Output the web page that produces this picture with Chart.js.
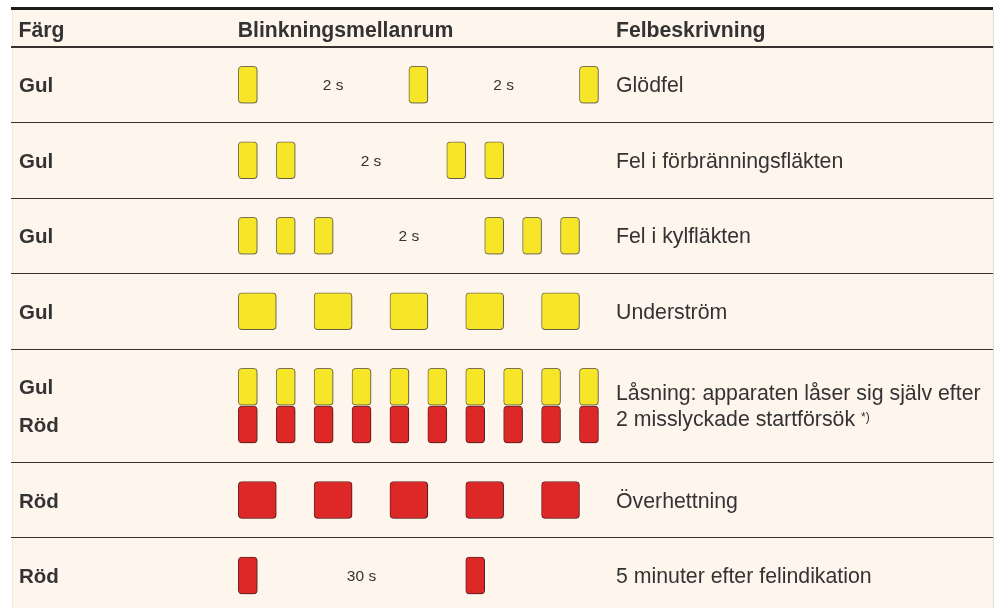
<!DOCTYPE html>
<html>
<head>
<meta charset="utf-8">
<script src="https://cdn.jsdelivr.net/npm/chart.js@4/dist/chart.umd.min.js"></script>
<style>
html,body{margin:0;padding:0;background:#fff;overflow:hidden}
#wrap{width:995px;height:608px;position:relative}
canvas{display:block}
</style>
</head>
<body>
<div id="wrap"><canvas id="c" width="995" height="608"></canvas></div>
<script>
// ---- data ----
const headers = ['Färg', 'Blinkningsmellanrum', 'Felbeskrivning'];
const colorLabels = [['Gul'], ['Gul'], ['Gul'], ['Gul'], ['Gul', 'Röd'], ['Röd'], ['Röd']];
const descriptions = [
  ['Glödfel'],
  ['Fel i förbränningsfläkten'],
  ['Fel i kylfläkten'],
  ['Underström'],
  ['Låsning: apparaten låser sig själv efter', '2 misslyckade startförsök'],
  ['Överhettning'],
  ['5 minuter efter felindikation']
];
const footnoteMark = '*)';
const rowSpans = [1, 1, 1, 1, 1.5, 1, 1];
// blink intervals [on, off] on a time axis (units)
const yellowBlinks = [
  [[0, 0.5], [4.5, 5], [9, 9.5]],
  [[0, 0.5], [1, 1.5], [5.5, 6], [6.5, 7]],
  [[0, 0.5], [1, 1.5], [2, 2.5], [6.5, 7], [7.5, 8], [8.5, 9]],
  [[0, 1], [2, 3], [4, 5], [6, 7], [8, 9]],
  [[0, 0.5], [1, 1.5], [2, 2.5], [3, 3.5], [4, 4.5], [5, 5.5], [6, 6.5], [7, 7.5], [8, 8.5], [9, 9.5]],
  [],
  []
];
const redBlinks = [
  [], [], [], [],
  [[0, 0.5], [1, 1.5], [2, 2.5], [3, 3.5], [4, 4.5], [5, 5.5], [6, 6.5], [7, 7.5], [8, 8.5], [9, 9.5]],
  [[0, 1], [2, 3], [4, 5], [6, 7], [8, 9]],
  [[0, 0.5], [6, 6.5]]
];
const intervalLabels = [
  [{ at: 2.5, text: '2 s' }, { at: 7, text: '2 s' }],
  [{ at: 3.5, text: '2 s' }],
  [{ at: 4.5, text: '2 s' }],
  [], [], [],
  [{ at: 3.25, text: '30 s' }]
];

// ---- layout helpers ----
const bounds = [0];
rowSpans.forEach(s => bounds.push(bounds[bounds.length - 1] + s));
const centers = rowSpans.map((s, i) => bounds[i] + s / 2);
function yFor(r, color) {
  const both = yellowBlinks[r].length && redBlinks[r].length;
  if (!both) return centers[r];
  return color === 'yellow' ? centers[r] - 0.25 : centers[r] + 0.25;
}
const yellowData = [];
yellowBlinks.forEach((row, r) => row.forEach(b => yellowData.push({ x: b, y: yFor(r, 'yellow') })));
const redData = [];
redBlinks.forEach((row, r) => row.forEach(b => redData.push({ x: b, y: yFor(r, 'red') })));

const FONT = '"Liberation Sans", Arial, Helvetica, sans-serif';
const TEXT = '#333';

const tablePlugin = {
  id: 'table',
  beforeDraw(chart) {
    const ctx = chart.ctx;
    ctx.save();
    ctx.fillStyle = '#ffffff';
    ctx.fillRect(0, 0, chart.width, chart.height);
    ctx.fillStyle = '#fef5ec';
    ctx.fillRect(12, 10, 981, chart.height - 10);
    ctx.fillStyle = '#e4ddd6';
    ctx.fillRect(993, 10, 1, chart.height - 10);
    ctx.fillStyle = '#f0e9e2';
    ctx.fillRect(12, 10, 1, chart.height - 10);
    ctx.restore();
  },
  beforeDatasetsDraw(chart) {
    const ctx = chart.ctx;
    ctx.save();
    ctx.shadowColor = 'rgba(0,0,0,0.22)';
    ctx.shadowOffsetX = 1.2;
    ctx.shadowOffsetY = 1.2;
    ctx.shadowBlur = 1.5;
  },
  afterDatasetsDraw(chart) {
    chart.ctx.restore();
  },
  afterDraw(chart) {
    const ctx = chart.ctx;
    const xs = chart.scales.x, ys = chart.scales.y;
    ctx.save();
    // rules
    ctx.fillStyle = '#1f1c1b';
    ctx.fillRect(11, 7, 982, 3);
    ctx.fillStyle = '#3a302d';
    const top = ys.getPixelForValue(0);
    ctx.fillRect(11, Math.round(top) - 1, 982, 2);
    for (let i = 1; i < bounds.length - 1; i++) {
      const py = Math.floor(ys.getPixelForValue(bounds[i]));
      ctx.fillRect(11, py, 982, 1);
    }
    // headers
    const colX = [18.5, xs.getPixelForValue(0) - 0.5, 616];
    ctx.fillStyle = TEXT;
    ctx.textBaseline = 'alphabetic';
    ctx.textAlign = 'left';
    ctx.font = 'bold 21.2px ' + FONT;
    headers.forEach((h, i) => ctx.fillText(h, colX[i], 36.5));
    // row labels
    colorLabels.forEach((labels, r) => {
      ctx.font = 'bold 20.5px ' + FONT;
      if (labels.length === 1) {
        ctx.fillText(labels[0], 19, ys.getPixelForValue(centers[r]) + 7.5);
      } else {
        ctx.fillText(labels[0], 19, ys.getPixelForValue(yFor(r, 'yellow')) + 7.5);
        ctx.fillText(labels[1], 19, ys.getPixelForValue(yFor(r, 'red')) + 7.5);
      }
    });
    // descriptions
    const DF = '21.3px ' + FONT;
    ctx.font = DF;
    descriptions.forEach((lines, r) => {
      const c = ys.getPixelForValue(centers[r]);
      if (lines.length === 1) {
        ctx.fillText(lines[0], 616, c + 7.5);
      } else {
        ctx.fillText(lines[0], 616, c - 13.25 + 7.5);
        ctx.fillText(lines[1], 616, c + 13.25 + 7.5);
        const w = ctx.measureText(lines[1] + ' ').width;
        ctx.font = '12px ' + FONT;
        ctx.fillText(footnoteMark, 616 + w, c + 13.25 + 7.5 - 5);
        ctx.font = DF;
      }
    });
    // interval labels
    ctx.font = '15.5px ' + FONT;
    ctx.textAlign = 'center';
    intervalLabels.forEach((labs, r) => {
      labs.forEach(l => {
        ctx.fillText(l.text, xs.getPixelForValue(l.at), ys.getPixelForValue(centers[r]) + 5.6);
      });
    });
    ctx.restore();
  }
};

new Chart(document.getElementById('c'), {
  type: 'bar',
  data: {
    datasets: [
      {
        label: 'Gul',
        data: yellowData,
        backgroundColor: '#f7e628',
        borderColor: '#7b7352',
        borderWidth: 1,
        borderRadius: 4,
        borderSkipped: false,
        barThickness: 37,
        grouped: false
      },
      {
        label: 'Röd',
        data: redData,
        backgroundColor: '#de2727',
        borderColor: '#6e2626',
        borderWidth: 1,
        borderRadius: 4,
        borderSkipped: false,
        barThickness: 37,
        grouped: false
      }
    ]
  },
  options: {
    indexAxis: 'y',
    responsive: false,
    animation: false,
    devicePixelRatio: 1,
    layout: { padding: { left: 12, right: 2, top: 47, bottom: 0 } },
    scales: {
      x: { type: 'linear', min: -5.97, max: 19.91, display: false, offset: false, grid: { offset: false } },
      y: { type: 'linear', min: 0, max: 7.43, reverse: true, display: false, offset: false, grid: { offset: false } }
    },
    plugins: { legend: { display: false }, tooltip: { enabled: false } }
  },
  plugins: [tablePlugin]
});
</script>
</body>
</html>
